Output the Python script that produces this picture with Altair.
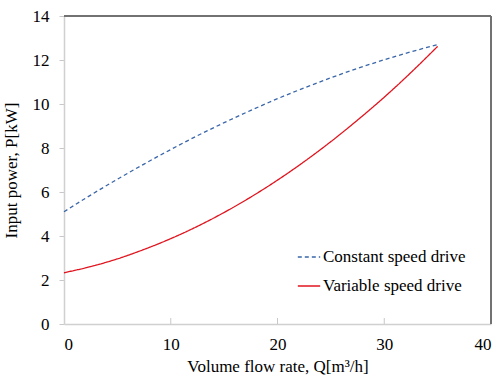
import altair as alt
import pandas as pd

# Flow rate samples, m3/h
flow = [0, 2.5, 5, 7.5, 10, 12.5, 15, 17.5, 20, 22.5, 25, 27.5, 30, 32.5, 35]
# Input power, kW
constant_speed = [5.10, 5.86, 6.58, 7.27, 7.93, 8.56, 9.15, 9.71, 10.24, 10.73, 11.19, 11.62, 12.01, 12.37, 12.70]
variable_speed = [2.33, 2.61, 2.96, 3.39, 3.88, 4.44, 5.07, 5.77, 6.54, 7.38, 8.29, 9.27, 10.31, 11.43, 12.62]

series_names = ["Constant speed drive", "Variable speed drive"]
series_colors = ["#3a66a8", "#e0141e"]
x_ticks = [10, 20, 30]

rows = []
for q, c, v in zip(flow, constant_speed, variable_speed):
    rows.append({"Q": q, "P": c, "drive": series_names[0]})
    rows.append({"Q": q, "P": v, "drive": series_names[1]})
df = pd.DataFrame(rows)

W, H = 427, 308
FONT = "'Times New Roman', 'Liberation Serif', 'DejaVu Serif', serif"
FS = 17

x_scale = alt.Scale(domain=[0, 40], nice=False)
y_scale = alt.Scale(domain=[0, 14], nice=False)

lines = alt.Chart(df).mark_line(strokeWidth=1.3, interpolate="monotone").encode(
    x=alt.X("Q:Q", scale=x_scale,
            title="Volume flow rate, Q[m³/h]",
            axis=alt.Axis(values=[0, 10, 20, 30, 40], ticks=False, grid=False,
                          domainColor="#d0d0d0", domainWidth=1.5,
                          labelFont=FONT, labelFontSize=FS, titleFont=FONT, titleFontSize=FS,
                          labelPadding=12, titlePadding=6)),
    y=alt.Y("P:Q", scale=y_scale,
            title="Input power, P[kW]",
            axis=alt.Axis(values=list(range(0, 15, 2)), grid=False,
                          tickColor="#c8c8c8", tickSize=5, domainColor="#d0d0d0",
                          domainWidth=1.5,
                          labelFont=FONT, labelFontSize=FS, titleFont=FONT, titleFontSize=FS,
                          labelPadding=10, titlePadding=12)),
    color=alt.Color("drive:N",
                    scale=alt.Scale(domain=series_names, range=series_colors),
                    legend=alt.Legend(title=None, orient="none", legendX=233, legendY=229,
                                      symbolType="stroke", symbolSize=500,
                                      symbolStrokeWidth=1.5, rowPadding=9,
                                      labelFontSize=FS, labelFont=FONT,
                                      labelColor="#000000", labelOffset=2)),
    strokeDash=alt.StrokeDash("drive:N",
                              scale=alt.Scale(domain=series_names, range=[[4, 3], [1, 0]]),
                              legend=None),
)

# inward tick marks along the bottom axis
tick_df = pd.DataFrame({"Q": x_ticks})
x_tick_marks = alt.Chart(tick_df).mark_rule(color="#c8c8c8", strokeWidth=1).encode(
    x=alt.X("Q:Q", scale=x_scale),
    y=alt.value(H - 6),
    y2=alt.value(H),
)

# darker frame on the top and right sides
top_edge = alt.Chart(tick_df).mark_rule(color="#707070", strokeWidth=1.5).encode(
    x=alt.value(0), x2=alt.value(W), y=alt.value(0)
)
right_edge = alt.Chart(tick_df).mark_rule(color="#707070", strokeWidth=1.5).encode(
    x=alt.value(W), y=alt.value(0), y2=alt.value(H)
)

chart = alt.layer(lines, x_tick_marks, top_edge, right_edge).properties(
    width=W, height=H,
    background="white",
    autosize=alt.AutoSizeParams(type="none"),
    padding={"left": 64, "top": 16, "right": 10, "bottom": 55},
).configure(font=FONT).configure_view(stroke=None).configure_axis(
    labelColor="#000000", titleColor="#000000", titleFontWeight="normal",
)

chart.save("out.html", embed_options={"renderer": "svg", "actions": False})
